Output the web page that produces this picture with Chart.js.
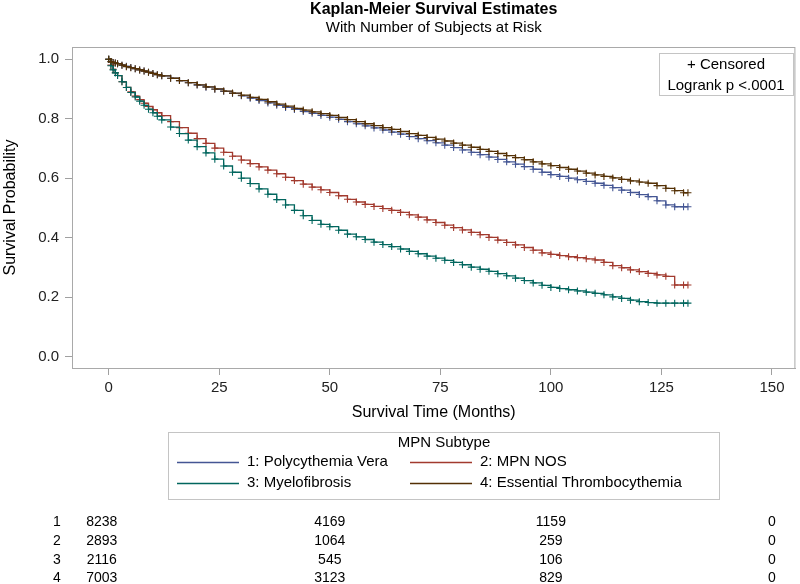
<!DOCTYPE html>
<html>
<head>
<meta charset="utf-8">
<script src="https://cdn.jsdelivr.net/npm/chart.js@4"></script>
<style>
  html, body { margin: 0; padding: 0; background: #fff; }
  #wrap { width: 800px; height: 584px; }
</style>
</head>
<body>
<div id="wrap"><canvas id="km" width="800" height="584"></canvas></div>
<script>
const FONT = "'Liberation Sans', Arial, sans-serif";

// survival time grid (months) shared by all four curves
const months = [0, 0.5, 1, 1.5, 2, 3, 4, 5, 6, 7, 8, 9, 10, 11, 12, 14, 16, 18, 20, 22, 24, 26, 28, 30, 32, 34, 36, 38,
  40, 42, 44, 46, 48, 50, 52, 54, 56, 58, 60, 62, 64, 66, 68, 70, 72, 74, 76, 78,
  80, 82, 84, 86, 88, 90, 92, 94, 96, 98, 100, 102, 104, 106, 108, 110, 112, 114, 116, 118,
  120, 122, 124, 126, 128, 130, 131];

const survPV = [1.0, 0.992, 0.989, 0.987, 0.985, 0.980, 0.976, 0.972, 0.968, 0.964, 0.960, 0.956, 0.952, 0.948, 0.944, 0.936, 0.928, 0.921, 0.913, 0.906, 0.899, 0.892, 0.885, 0.877, 0.869, 0.861, 0.853, 0.845,
  0.838, 0.831, 0.824, 0.818, 0.811, 0.805, 0.798, 0.790, 0.783, 0.776, 0.769, 0.762, 0.755, 0.748, 0.740, 0.733, 0.726, 0.719, 0.711, 0.703,
  0.695, 0.687, 0.679, 0.671, 0.663, 0.655, 0.647, 0.639, 0.630, 0.620, 0.612, 0.606, 0.600, 0.595, 0.589, 0.583, 0.576, 0.568, 0.560, 0.552,
  0.545, 0.538, 0.524, 0.510, 0.504, 0.504, 0.504];

const survNOS = [1.0, 0.980, 0.966, 0.955, 0.945, 0.924, 0.905, 0.890, 0.876, 0.864, 0.852, 0.841, 0.830, 0.820, 0.810, 0.790, 0.770, 0.751, 0.733, 0.717, 0.701, 0.687, 0.674, 0.661, 0.649, 0.638, 0.627, 0.615,
  0.603, 0.592, 0.580, 0.570, 0.561, 0.552, 0.541, 0.529, 0.520, 0.512, 0.505, 0.498, 0.492, 0.485, 0.477, 0.469, 0.460, 0.451, 0.442, 0.434,
  0.426, 0.418, 0.410, 0.401, 0.392, 0.384, 0.376, 0.367, 0.358, 0.349, 0.344, 0.340, 0.336, 0.333, 0.329, 0.325, 0.317, 0.306, 0.299, 0.292,
  0.286, 0.280, 0.275, 0.270, 0.241, 0.241, 0.241];

const survMF = [1.0, 0.978, 0.964, 0.954, 0.945, 0.924, 0.905, 0.888, 0.873, 0.859, 0.845, 0.832, 0.820, 0.808, 0.796, 0.772, 0.750, 0.728, 0.706, 0.685, 0.664, 0.641, 0.620, 0.600, 0.582, 0.564, 0.546, 0.528,
  0.510, 0.492, 0.474, 0.458, 0.445, 0.437, 0.425, 0.412, 0.403, 0.394, 0.385, 0.377, 0.370, 0.362, 0.354, 0.346, 0.338, 0.331, 0.324, 0.317,
  0.309, 0.301, 0.294, 0.287, 0.279, 0.272, 0.264, 0.256, 0.248, 0.240, 0.233, 0.229, 0.225, 0.221, 0.217, 0.213, 0.208, 0.201, 0.196, 0.190,
  0.185, 0.182, 0.180, 0.180, 0.180, 0.180, 0.180];

const survET = [1.0, 0.992, 0.989, 0.987, 0.985, 0.980, 0.975, 0.971, 0.968, 0.964, 0.960, 0.956, 0.952, 0.948, 0.944, 0.936, 0.928, 0.921, 0.914, 0.907, 0.900, 0.893, 0.886, 0.879, 0.872, 0.865, 0.857, 0.849,
  0.842, 0.835, 0.829, 0.823, 0.817, 0.811, 0.804, 0.797, 0.790, 0.783, 0.777, 0.770, 0.764, 0.757, 0.750, 0.744, 0.737, 0.731, 0.725, 0.718,
  0.711, 0.704, 0.697, 0.690, 0.683, 0.676, 0.669, 0.662, 0.655, 0.648, 0.642, 0.636, 0.630, 0.624, 0.617, 0.611, 0.606, 0.601, 0.596, 0.591,
  0.587, 0.583, 0.575, 0.566, 0.558, 0.551, 0.551];

const groupNames = ["1: Polycythemia Vera", "2: MPN NOS", "3: Myelofibrosis", "4: Essential Thrombocythemia"];
const groupColors = ["#445694", "#A23A2E", "#01665E", "#543005"];
const groupSurv = [survPV, survNOS, survMF, survET];

const xTicks = [0, 25, 50, 75, 100, 125, 150];
const yTicks = [0, 0.2, 0.4, 0.6, 0.8, 1.0];

// number of subjects at risk
const riskTimes = [0, 50, 100, 150];
const atRisk1 = [8238, 4169, 1159, 0];
const atRisk2 = [2893, 1064, 259, 0];
const atRisk3 = [2116, 545, 106, 0];
const atRisk4 = [7003, 3123, 829, 0];
const riskRows = [atRisk1, atRisk2, atRisk3, atRisk4];

const datasets = groupSurv.map((surv, i) => ({
  label: groupNames[i],
  data: months.map((m, j) => ({ x: m, y: surv[j] })),
  borderColor: groupColors[i],
  backgroundColor: groupColors[i],
  borderWidth: 1.3,
  stepped: "before",
  pointStyle: "cross",
  pointRadius: 3.5,
  pointBorderWidth: 1.1,
  pointBorderColor: groupColors[i],
  pointHoverRadius: 3.5,
  order: 3 - i, // group 4 drawn last, on top
}));

// frame, titles, inset box, legend and risk table
const decorations = {
  id: "decorations",
  afterDraw(chart) {
    const ctx = chart.ctx;
    const area = chart.chartArea;
    const xs = chart.scales.x;
    ctx.save();

    ctx.strokeStyle = "#a9a9a9";
    ctx.lineWidth = 1;
    ctx.strokeRect(area.left + 0.5, area.top + 0.5, area.right - area.left - 1, area.bottom - area.top);

    const mid = (area.left + area.right) / 2;
    ctx.fillStyle = "#000";
    ctx.textAlign = "center";
    ctx.textBaseline = "middle";
    ctx.font = "bold 16px " + FONT;
    ctx.fillText("Kaplan-Meier Survival Estimates", mid, 10);
    ctx.font = "15px " + FONT;
    ctx.fillText("With Number of Subjects at Risk", mid, 28);

    // axis titles
    ctx.font = "16px " + FONT;
    ctx.fillText("Survival Time (Months)", mid, 413);
    ctx.save();
    ctx.translate(11, (area.top + area.bottom) / 2);
    ctx.rotate(-Math.PI / 2);
    ctx.fillText("Survival Probability", 0, 0);
    ctx.restore();

    // censored / logrank inset
    ctx.strokeStyle = "#c4c4c4";
    ctx.strokeRect(659.5, 53.5, 134, 42);
    ctx.font = "15px " + FONT;
    ctx.fillText("+ Censored", 726, 65);
    ctx.fillText("Logrank p <.0001", 726, 86);

    // group legend
    ctx.strokeRect(168.5, 432.5, 551, 67);
    ctx.fillText("MPN Subtype", 444, 443);
    const colX = [177, 410];
    const rowY = [462, 483];
    ctx.textAlign = "left";
    groupNames.forEach((name, i) => {
      const cx = colX[i % 2];
      const cy = rowY[Math.floor(i / 2)];
      ctx.strokeStyle = groupColors[i];
      ctx.lineWidth = 1.5;
      ctx.beginPath();
      ctx.moveTo(cx, cy + 0.5);
      ctx.lineTo(cx + 62, cy + 0.5);
      ctx.stroke();
      ctx.fillText(name, cx + 70, cy);
    });

    // subjects at risk table
    ctx.font = "14px " + FONT;
    const tableY = [522, 541, 560, 578];
    riskRows.forEach((row, r) => {
      ctx.textAlign = "center";
      ctx.fillText(String(r + 1), 57, tableY[r]);
      row.forEach((n, k) => {
        const px = xs.getPixelForValue(riskTimes[k]) - (k === 0 ? 7 : 0);
        ctx.fillText(String(n), px, tableY[r]);
      });
    });

    ctx.restore();
  },
};

new Chart(document.getElementById("km").getContext("2d"), {
  type: "line",
  data: { datasets: datasets },
  options: {
    responsive: false,
    animation: false,
    events: [],
    layout: { padding: { left: 0, right: 3, top: 47, bottom: 156 } },
    plugins: {
      legend: { display: false },
      tooltip: { enabled: false },
    },
    scales: {
      x: {
        type: "linear",
        min: -8.3,
        max: 155.3,
        afterBuildTicks: (scale) => { scale.ticks = xTicks.map((v) => ({ value: v })); },
        afterFit: (scale) => { scale.height = 60; },
        grid: { drawOnChartArea: false, drawTicks: true, tickLength: 7, color: "#a0a0a0" },
        border: { display: true, color: "#a9a9a9" },
        ticks: { color: "#222", font: { family: FONT, size: 15 }, padding: 4, maxRotation: 0 },
      },
      y: {
        type: "linear",
        min: -0.038,
        max: 1.041,
        afterBuildTicks: (scale) => { scale.ticks = yTicks.map((v) => ({ value: v })); },
        afterFit: (scale) => { scale.width = 72; },
        grid: { drawOnChartArea: false, drawTicks: true, tickLength: 7, color: "#a0a0a0" },
        border: { display: true, color: "#a9a9a9" },
        ticks: {
          color: "#222",
          font: { family: FONT, size: 15 },
          padding: 6,
          callback: (v) => Number(v).toFixed(1),
        },
      },
    },
  },
  plugins: [decorations],
});
</script>
</body>
</html>
